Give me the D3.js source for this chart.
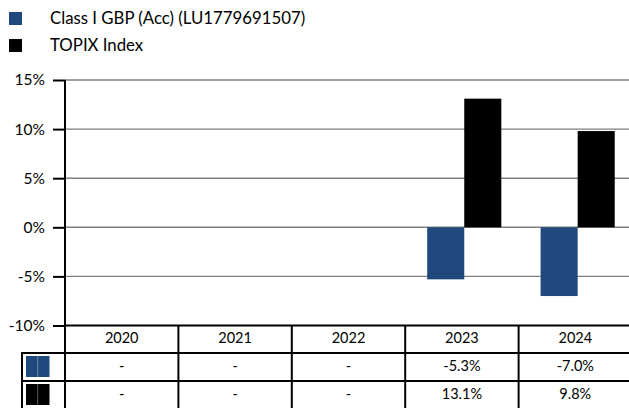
<!DOCTYPE html>
<html>
<head>
<meta charset="utf-8">
<script src="https://cdn.jsdelivr.net/npm/d3@7"></script>
<style>
  html, body { margin: 0; padding: 0; background: #fff; }
  svg { display: block; font-family: Lato, "Open Sans", sans-serif; }
</style>
</head>
<body>
<svg id="chart" width="629" height="408"></svg>
<script>
// Calendar-year performance data
const years = ["2020", "2021", "2022", "2023", "2024"];
const fundReturns = [null, null, null, -5.3, -7.0];
const indexReturns = [null, null, null, 13.1, 9.8];
const seriesNames = ["Class I GBP (Acc) (LU1779691507)", "TOPIX Index"];
const seriesColors = ["#1f497d", "#000000"];
const yTicks = [-10, -5, 0, 5, 10, 15];

const svg = d3.select("#chart");

const plotLeft = 65, plotRight = 632, plotTop = 80, plotBottom = 325.5;

const x = d3.scaleBand().domain(years).range([plotLeft, plotRight]);
const x1 = d3.scaleBand().domain([0, 1]).range([0, x.bandwidth()])
  .paddingOuter(0.53).align(0.56);
const y = d3.scaleLinear().domain([-10, 15]).range([plotBottom, plotTop]);

// Legend
const legend = svg.append("g");
seriesNames.forEach((name, i) => {
  const ly = 12 + i * 27;
  legend.append("rect").attr("x", 9).attr("y", ly).attr("width", 13).attr("height", 13)
    .attr("fill", seriesColors[i]);
  legend.append("text").attr("x", 50).attr("y", ly + 12)
    .attr("font-size", 16.8).attr("fill", "#000").text(name);
});

// Horizontal gridlines
svg.append("g").selectAll("line").data(yTicks.filter(t => t !== -10)).join("line")
  .attr("x1", plotLeft).attr("x2", 629)
  .attr("y1", d => y(d)).attr("y2", d => y(d))
  .attr("stroke", "#7f7f7f").attr("stroke-width", 1.4);

// Bars
const series = [fundReturns, indexReturns];
series.forEach((vals, si) => {
  svg.append("g").selectAll("rect")
    .data(years.map((yr, i) => ({ yr, v: vals[i] })).filter(d => d.v !== null))
    .join("rect")
    .attr("x", d => x(d.yr) + x1(si))
    .attr("width", x1.bandwidth())
    .attr("y", d => y(Math.max(0, d.v)))
    .attr("height", d => Math.abs(y(d.v) - y(0)))
    .attr("fill", seriesColors[si]);
});

// Y axis
const yAxis = d3.axisLeft(y).tickValues(yTicks).tickSize(12).tickPadding(8)
  .tickFormat(d => d + "%");
const gy = svg.append("g").attr("transform", `translate(${plotLeft},0)`).call(yAxis);
gy.select(".domain").remove();
gy.selectAll(".tick line").attr("stroke", "#000").attr("stroke-width", 2);
gy.selectAll(".tick text").attr("font-size", 15.5).attr("fill", "#000")
  .attr("font-family", "Lato, 'Open Sans', sans-serif");
svg.append("line").attr("x1", plotLeft).attr("x2", plotLeft)
  .attr("y1", plotTop).attr("y2", 408).attr("stroke", "#000").attr("stroke-width", 2);

// Data table below the chart
const rowCenters = [339, 367, 395];
const table = svg.append("g");
table.append("line").attr("x1", plotLeft).attr("x2", 629)
  .attr("y1", plotBottom).attr("y2", plotBottom).attr("stroke", "#000").attr("stroke-width", 2);
[353, 381].forEach(ly => {
  table.append("line").attr("x1", 21).attr("x2", 629)
    .attr("y1", ly).attr("y2", ly).attr("stroke", "#000").attr("stroke-width", 2);
});
table.append("line").attr("x1", 22).attr("x2", 22).attr("y1", 352).attr("y2", 408)
  .attr("stroke", "#000").attr("stroke-width", 2);
years.slice(1).forEach(yr => {
  table.append("line").attr("x1", x(yr)).attr("x2", x(yr))
    .attr("y1", plotBottom).attr("y2", 408).attr("stroke", "#000").attr("stroke-width", 2);
});

// Header years
table.append("g").selectAll("text").data(years).join("text")
  .attr("x", d => x(d) + x.bandwidth() / 2).attr("y", rowCenters[0])
  .attr("text-anchor", "middle").attr("dominant-baseline", "middle")
  .attr("font-size", 14.5).attr("fill", "#000").text(d => d);

// Series rows
series.forEach((vals, si) => {
  const cy = rowCenters[si + 1];
  const sy = 356 + si * 28;
  table.append("rect").attr("x", 26).attr("y", sy).attr("width", 23.5).attr("height", 21)
    .attr("fill", seriesColors[si]);
  table.append("line").attr("x1", 37.7).attr("x2", 37.7).attr("y1", sy).attr("y2", sy + 21)
    .attr("stroke", "#fff").attr("stroke-opacity", 0.35).attr("stroke-width", 1);
  table.append("g").selectAll("text").data(years.map((yr, i) => ({ yr, v: vals[i] }))).join("text")
    .attr("x", d => x(d.yr) + x.bandwidth() / 2).attr("y", cy)
    .attr("text-anchor", "middle").attr("dominant-baseline", "middle")
    .attr("font-size", 14.5).attr("fill", "#000")
    .text(d => d.v === null ? "-" : d.v.toFixed(1) + "%");
});
</script>
</body>
</html>
